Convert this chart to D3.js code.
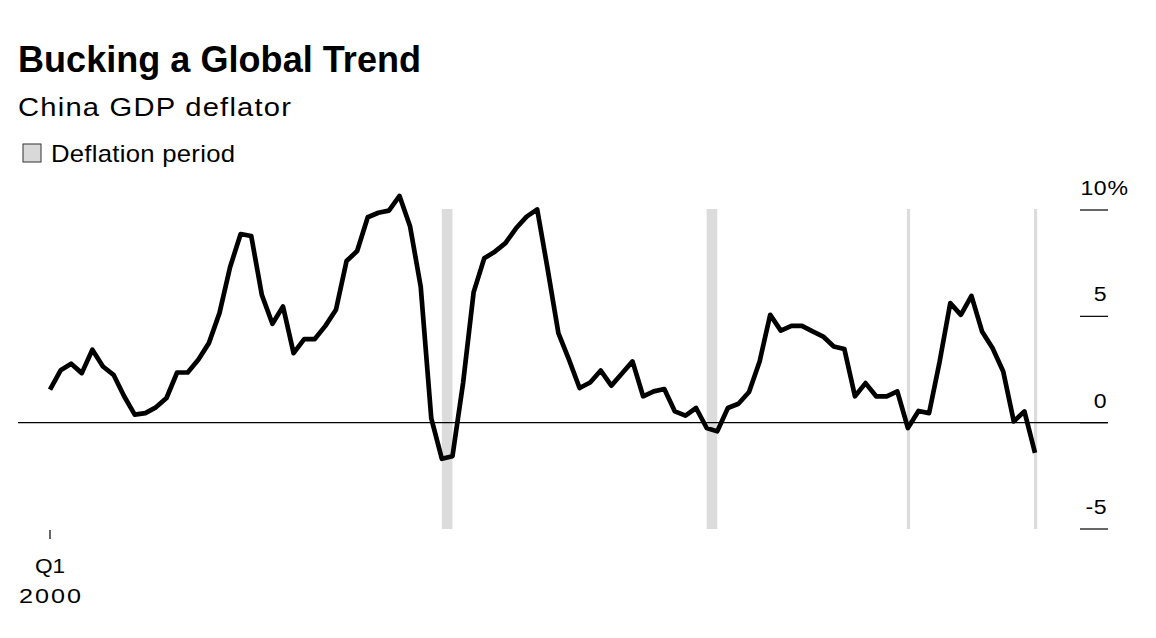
<!DOCTYPE html>
<html>
<head>
<meta charset="utf-8">
<script src="https://cdn.jsdelivr.net/npm/d3@7"></script>
<style>
  html, body { margin: 0; padding: 0; background: #fff; }
  svg { display: block; font-family: "Liberation Sans", Arial, Helvetica, sans-serif; }
</style>
</head>
<body>
<svg id="chart" width="1156" height="638"></svg>
<script>
// ---- Data (China GDP deflator, % y/y, quarterly from 2000 Q1) ----
const startYear = 2000;
const deflator = [
  1.55, 2.46, 2.77, 2.33, 3.43, 2.64, 2.25, 1.24, 0.38, 0.45,
  0.72, 1.16, 2.36, 2.36, 2.96, 3.74, 5.15, 7.31, 8.87, 8.78,
  6.01, 4.65, 5.46, 3.27, 3.93, 3.93, 4.55, 5.31, 7.60, 8.07,
  9.66, 9.87, 9.97, 10.66, 9.22, 6.40, 0.20, -1.70, -1.58, 1.86,
  6.14, 7.73, 8.04, 8.44, 9.14, 9.69, 10.03, 7.18, 4.21, 2.96,
  1.63, 1.89, 2.45, 1.74, 2.31, 2.88, 1.24, 1.47, 1.58, 0.53,
  0.33, 0.69, -0.25, -0.41, 0.69, 0.89, 1.44, 2.88, 5.07, 4.33,
  4.55, 4.55, 4.29, 4.05, 3.58, 3.46, 1.24, 1.86, 1.24, 1.24,
  1.47, -0.25, 0.55, 0.45, 2.88, 5.62, 5.07, 5.96, 4.29, 3.50,
  2.41, 0.06, 0.53, -1.42
];
const deflationStart = ["2009 Q2", "2015 Q3", "2020 Q2", "2023 Q2"];
const deflationEnd   = ["2009 Q3", "2015 Q4", "2020 Q2", "2023 Q2"];
const yTicks = [10, 5, 0, -5];
const xTickLabels = ["Q1", "2000"];

const quarters = deflator.map((_, i) => `${startYear + Math.floor(i / 4)} Q${(i % 4) + 1}`);
const data = deflator.map((v, i) => ({ q: quarters[i], i, v }));

// ---- Layout ----
const svg = d3.select("#chart");
const x = d3.scaleLinear().domain([0, deflator.length - 1]).range([50, 1035]);
const y = d3.scaleLinear().domain([-5, 10]).range([529, 210]);
const qIndex = q => quarters.indexOf(q);

// helper: text slightly widened horizontally (reference font is wider than Arial)
function wideText(parent, str, px, py, size, sx, width, opts = {}) {
  const t = parent.append("text")
    .attr("transform", `translate(${px},${py}) scale(${sx},1)`)
    .attr("font-size", size)
    .attr("fill", "#000")
    .text(str);
  if (width) t.attr("textLength", width / sx).attr("lengthAdjust", "spacing");
  if (opts.anchor) t.attr("text-anchor", opts.anchor);
  if (opts.weight) t.attr("font-weight", opts.weight);
  return t;
}

// Title block
svg.append("text").attr("x", 18).attr("y", 72)
  .attr("font-size", 36).attr("font-weight", 700)
  .attr("textLength", 403).attr("lengthAdjust", "spacing")
  .attr("fill", "#000").text("Bucking a Global Trend");
wideText(svg, "China GDP deflator", 18, 115.5, 26.5, 1.1, 273);

// Legend
svg.append("rect").attr("x", 23).attr("y", 144).attr("width", 18).attr("height", 18)
  .attr("fill", "#d9d9d9").attr("stroke", "#333").attr("stroke-width", 1);
wideText(svg, "Deflation period", 51, 162, 23.8, 1.08, 184);

// Deflation bands
svg.append("g").selectAll("rect")
  .data(deflationStart.map((s, k) => ({ s: qIndex(s), e: qIndex(deflationEnd[k]) })))
  .join("rect")
  .attr("x", d => d.s === d.e ? x(d.s) - 1 : x(d.s))
  .attr("width", d => Math.max(x(d.e) - x(d.s), 3.2))
  .attr("y", 209)
  .attr("height", 320)
  .attr("fill", "#dcdcdc");

// Right axis ticks
const yAxis = svg.append("g");
yAxis.selectAll("line").data(yTicks).join("line")
  .attr("x1", 1080).attr("x2", 1108)
  .attr("y1", d => y(d)).attr("y2", d => y(d))
  .attr("stroke", "#000").attr("stroke-width", 1.2);
yTicks.forEach(v => {
  wideText(yAxis, String(v), 1107, y(v) - 15, 21, 1.1, null, { anchor: "end" })
    .attr("letter-spacing", 0.4);
});
wideText(yAxis, "%", 1107.5, y(yTicks[0]) - 15, 21, 1.1, null);

// Zero line
svg.append("line").attr("x1", 18).attr("x2", 1108)
  .attr("y1", y(0)).attr("y2", y(0))
  .attr("stroke", "#000").attr("stroke-width", 1.4);

// Bottom tick + label
svg.append("line").attr("x1", x(0)).attr("x2", x(0))
  .attr("y1", 530).attr("y2", 539).attr("stroke", "#000").attr("stroke-width", 1.2);
const xLabelWidths = [30, 62];
const xLabelStretch = [1.08, 1.2];
xTickLabels.forEach((lab, k) => {
  wideText(svg, lab, x(0), 573 + k * 30, 21, xLabelStretch[k], xLabelWidths[k], { anchor: "middle" });
});

// Line
svg.append("path").datum(data)
  .attr("fill", "none").attr("stroke", "#000").attr("stroke-width", 4.7)
  .attr("stroke-linejoin", "round").attr("stroke-linecap", "butt")
  .attr("d", d3.line().x(d => x(d.i)).y(d => y(d.v)));
</script>
</body>
</html>
